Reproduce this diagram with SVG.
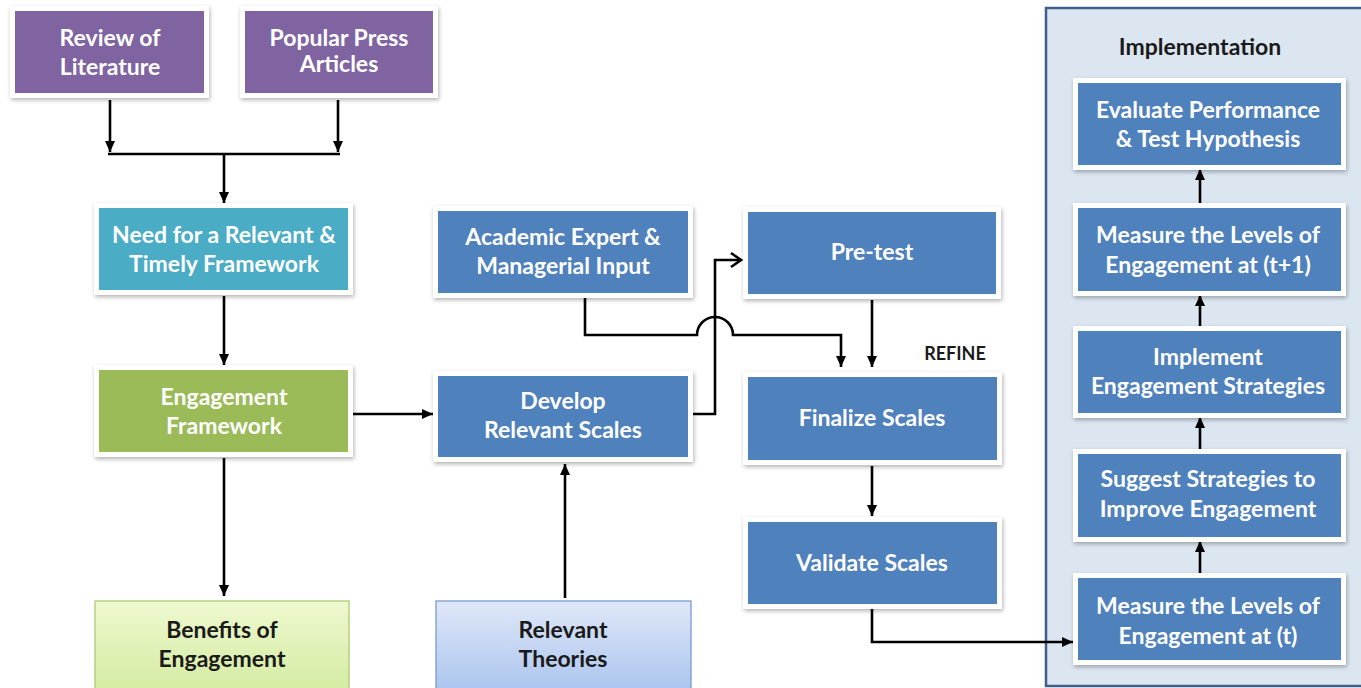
<svg xmlns="http://www.w3.org/2000/svg" width="1361" height="688" viewBox="0 0 1361 688">
<style>
.frame{fill:#ffffff;filter:url(#sh)}
.purple{fill:#8064a2}
.teal{fill:#4bacc6}
.green{fill:#9bbb59}
.blue{fill:#4f81bd}
.t{font-family:Lato,"Open Sans","Liberation Sans",sans-serif;font-weight:bold;font-size:23px;text-anchor:middle;fill:#ffffff}
.d{fill:#1a1a1a}
.c{fill:none;stroke:#000000;stroke-width:2.6}
</style>
<defs>
<filter id="sh" x="-10%" y="-10%" width="120%" height="130%">
<feDropShadow dx="1" dy="2" stdDeviation="2" flood-color="#000" flood-opacity="0.3"/>
</filter>
<linearGradient id="gGreen" x1="0" y1="0" x2="0" y2="1">
<stop offset="0" stop-color="#eef8cf"/>
<stop offset="1" stop-color="#d3eba0"/>
</linearGradient>
<linearGradient id="gBlue" x1="0" y1="0" x2="0" y2="1">
<stop offset="0" stop-color="#dfe8f8"/>
<stop offset="1" stop-color="#a8c3ee"/>
</linearGradient>
<marker id="ah" markerUnits="userSpaceOnUse" markerWidth="12" markerHeight="10" refX="11" refY="5" orient="auto">
<path d="M0,0 L11,5 L0,10 z" fill="#000"/>
</marker>
<marker id="oh" markerUnits="userSpaceOnUse" markerWidth="14" markerHeight="16" refX="12" refY="8" orient="auto">
<path d="M2,1 L12,8 L2,15" fill="none" stroke="#000" stroke-width="2.5"/>
</marker>
</defs>
<rect width="1361" height="688" fill="#ffffff"/>

<g id="implementation-panel">
<rect x="1046" y="8" width="320" height="678" fill="#dce6f1" stroke="#3f5f8a" stroke-width="2.5"/>
<text class="t d" x="1200" y="55">Implementation</text>
</g>

<g id="connectors">
<path class="c" d="M110,100 V152" marker-end="url(#ah)"/>
<path class="c" d="M338,100 V152" marker-end="url(#ah)"/>
<path class="c" d="M108,154 H340"/>
<path class="c" d="M224,154 V203" marker-end="url(#ah)"/>
<path class="c" d="M224,296 V365" marker-end="url(#ah)"/>
<path class="c" d="M352,414 H433" marker-end="url(#ah)"/>
<path class="c" d="M224,458 V596" marker-end="url(#ah)"/>
<path class="c" d="M565,598 V464" marker-end="url(#ah)"/>
<path class="c" d="M692,414 H715 V260 H741" marker-end="url(#oh)"/>
<path class="c" d="M585,297 V335 H697 A18,18 0 0 1 733,335 H841 V367" marker-end="url(#ah)"/>
<path class="c" d="M872,300 V367" marker-end="url(#ah)"/>
<path class="c" d="M872,466 V516" marker-end="url(#ah)"/>
<path class="c" d="M872,608 V642 H1073" marker-end="url(#ah)"/>
<path class="c" d="M1200,575 V541" marker-end="url(#ah)"/>
<path class="c" d="M1200,451 V417" marker-end="url(#ah)"/>
<path class="c" d="M1200,328 V295" marker-end="url(#ah)"/>
<path class="c" d="M1200,205 V169" marker-end="url(#ah)"/>
</g>

<g id="review-literature">
<rect class="frame" x="10" y="6" width="199" height="92"/>
<rect class="purple" x="15" y="11" width="189" height="82"/>
<text class="t" x="110" y="46">Review of</text>
<text class="t" x="110" y="75">Literature</text>
</g>

<g id="popular-press">
<rect class="frame" x="240" y="6" width="198" height="92"/>
<rect class="purple" x="245" y="11" width="188" height="82"/>
<text class="t" x="339" y="46">Popular Press</text>
<text class="t" x="339" y="72">Articles</text>
</g>

<g id="need-framework">
<rect class="frame" x="94" y="203" width="259" height="92"/>
<rect class="teal" x="99" y="208" width="249" height="82"/>
<text class="t" x="224" y="243">Need for a Relevant &amp;</text>
<text class="t" x="224" y="272">Timely Framework</text>
</g>

<g id="engagement-framework">
<rect class="frame" x="94" y="365" width="259" height="92"/>
<rect class="green" x="99" y="370" width="249" height="82"/>
<text class="t" x="224" y="405">Engagement</text>
<text class="t" x="224" y="434">Framework</text>
</g>

<g id="benefits">
<rect x="95" y="601" width="254" height="95" fill="url(#gGreen)" stroke="#a6c86a" stroke-width="1.2"/>
<text class="t d" x="222" y="638">Benefits of</text>
<text class="t d" x="222" y="667">Engagement</text>
</g>

<g id="academic-input">
<rect class="frame" x="433" y="206" width="260" height="92"/>
<rect class="blue" x="438" y="211" width="250" height="82"/>
<text class="t" x="563" y="245">Academic Expert &amp;</text>
<text class="t" x="563" y="274">Managerial Input</text>
</g>

<g id="develop-scales">
<rect class="frame" x="433" y="371" width="260" height="91"/>
<rect class="blue" x="438" y="376" width="250" height="81"/>
<text class="t" x="563" y="409">Develop</text>
<text class="t" x="563" y="438">Relevant Scales</text>
</g>

<g id="relevant-theories">
<rect x="436" y="601" width="255" height="95" fill="url(#gBlue)" stroke="#6f94cc" stroke-width="1.2"/>
<text class="t d" x="563" y="638">Relevant</text>
<text class="t d" x="563" y="667">Theories</text>
</g>

<g id="pre-test">
<rect class="frame" x="743" y="207" width="258" height="92"/>
<rect class="blue" x="748" y="212" width="248" height="82"/>
<text class="t" x="872" y="260">Pre-test</text>
</g>

<g id="refine-label">
<text class="t d" x="955" y="360" style="font-size:18px">REFINE</text>
</g>

<g id="finalize-scales">
<rect class="frame" x="743" y="372" width="259" height="93"/>
<rect class="blue" x="748" y="377" width="249" height="83"/>
<text class="t" x="872" y="426">Finalize Scales</text>
</g>

<g id="validate-scales">
<rect class="frame" x="743" y="517" width="259" height="92"/>
<rect class="blue" x="748" y="522" width="249" height="82"/>
<text class="t" x="872" y="571">Validate Scales</text>
</g>

<g id="evaluate-performance">
<rect class="frame" x="1073" y="78" width="273" height="92"/>
<rect class="blue" x="1078" y="83" width="263" height="82"/>
<text class="t" x="1208" y="118">Evaluate Performance</text>
<text class="t" x="1208" y="147">&amp; Test Hypothesis</text>
</g>

<g id="measure-t1">
<rect class="frame" x="1073" y="203" width="273" height="93"/>
<rect class="blue" x="1078" y="208" width="263" height="83"/>
<text class="t" x="1208" y="243">Measure the Levels of</text>
<text class="t" x="1208" y="273">Engagement at (t+1)</text>
</g>

<g id="implement-strategies">
<rect class="frame" x="1073" y="326" width="273" height="92"/>
<rect class="blue" x="1078" y="331" width="263" height="82"/>
<text class="t" x="1208" y="365">Implement</text>
<text class="t" x="1208" y="394">Engagement Strategies</text>
</g>

<g id="suggest-strategies">
<rect class="frame" x="1073" y="449" width="273" height="93"/>
<rect class="blue" x="1078" y="454" width="263" height="83"/>
<text class="t" x="1208" y="487">Suggest Strategies to</text>
<text class="t" x="1208" y="517">Improve Engagement</text>
</g>

<g id="measure-t">
<rect class="frame" x="1073" y="573" width="273" height="92"/>
<rect class="blue" x="1078" y="578" width="263" height="82"/>
<text class="t" x="1208" y="614">Measure the Levels of</text>
<text class="t" x="1208" y="644">Engagement at (t)</text>
</g>
</svg>
